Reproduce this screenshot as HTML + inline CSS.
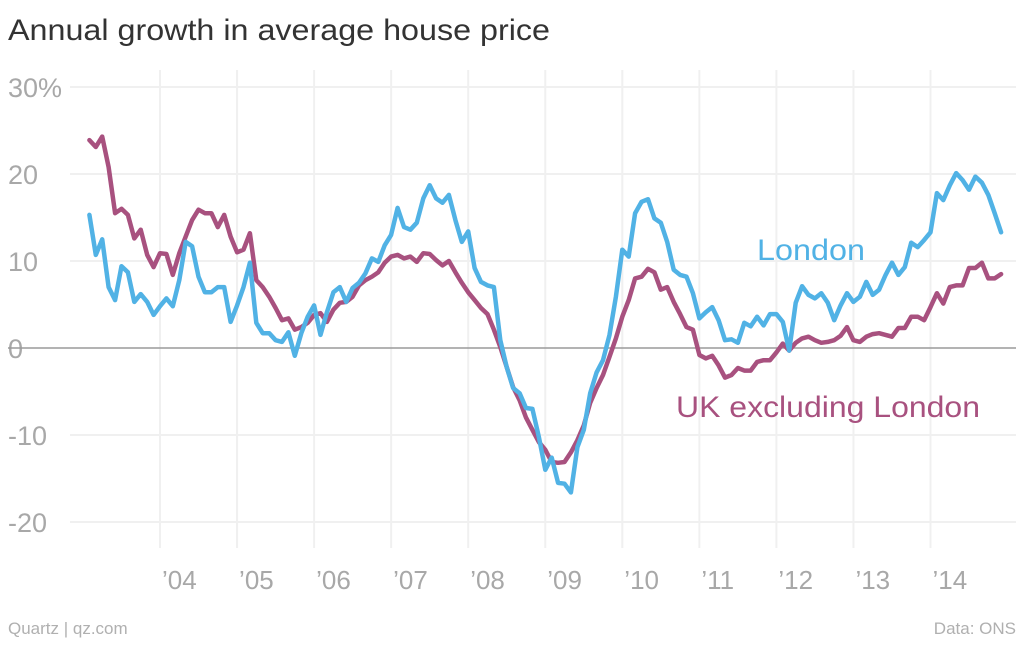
<!DOCTYPE html>
<html><head><meta charset="utf-8"><style>
body{margin:0;background:#fff;font-family:"Liberation Sans",sans-serif;}
</style></head><body>
<svg id="chart" width="1024" height="640" xmlns="http://www.w3.org/2000/svg">
<rect width="1024" height="640" fill="#ffffff"/>
<text x="8" y="40" font-size="30" fill="#333" textLength="542" lengthAdjust="spacingAndGlyphs" font-family="Liberation Sans, sans-serif">Annual growth in average house price</text>
<g id="grid"></g><g id="lines"></g>
<text x="757" y="260" font-size="30" fill="#51b2e5" textLength="108" lengthAdjust="spacingAndGlyphs">London</text>
<text x="676" y="417" font-size="30" fill="#a8517f" textLength="304" lengthAdjust="spacingAndGlyphs">UK excluding London</text>
<text x="8" y="634" font-size="17" fill="#b0b0b0">Quartz | qz.com</text>
<text x="1016" y="634" font-size="17" fill="#b0b0b0" text-anchor="end">Data: ONS</text>
</svg>
<script>
const yTicks=[30,20,10,0,-10,-20];
const yTickLabels=["30%","20","10","0","-10","-20"];
const xYears=[2004,2005,2006,2007,2008,2009,2010,2011,2012,2013,2014];
const xYearLabels=["’04","’05","’06","’07","’08","’09","’10","’11","’12","’13","’14"];
const startYear=2003, startMonth=1; // Feb 2003 (0-based month)
const london=[15.3,10.7,12.5,7.0,5.5,9.4,8.7,5.3,6.2,5.3,3.8,4.8,5.7,4.8,7.8,12.2,11.7,8.2,6.4,6.4,7.0,7.0,3.0,4.9,7.0,9.8,2.9,1.7,1.7,0.9,0.7,1.8,-0.9,1.7,3.6,4.9,1.5,4.1,6.4,7.0,5.3,6.9,7.5,8.6,10.3,9.9,11.8,13.0,16.1,
13.9,13.6,14.4,17.2,18.7,17.2,16.7,17.6,14.7,12.2,13.4,9.2,7.6,7.2,7.0,0.9,-2.2,-4.6,-5.2,-6.9,-7.0,-10.2,-14.0,-12.6,-15.5,-15.6,-16.6,-11.4,-9.4,-5.2,-2.8,-1.4,1.5,5.9,11.3,10.5,15.5,16.8,17.1,14.9,14.4,12.2,9.0,8.4,8.2,6.3,3.4,
4.1,4.7,3.2,0.9,1.0,0.6,2.9,2.5,3.6,2.6,3.9,3.9,3.0,-0.3,5.2,7.1,6.1,5.7,6.3,5.2,3.2,4.9,6.3,5.3,5.9,7.6,6.1,6.7,8.4,9.8,8.4,9.3,12.1,11.6,12.4,13.3,17.8,17.0,18.7,20.1,19.3,18.2,19.7,19.0,17.6,15.5,13.3];
const ukExLondon=[23.9,23.1,24.3,20.8,15.5,16.0,15.3,12.6,13.6,10.7,9.3,10.9,10.8,8.4,10.9,12.8,14.7,15.9,15.5,15.5,13.9,15.3,12.8,11.0,11.3,13.2,7.8,7.0,5.9,4.6,3.2,3.4,2.1,2.4,2.9,3.8,4.0,3.0,4.4,5.2,5.3,5.9,7.2,7.8,8.2,8.7,9.8,10.5,10.7,
10.3,10.5,9.9,10.9,10.8,10.1,9.5,10.0,8.7,7.5,6.4,5.5,4.6,3.9,2.1,0.1,-2.2,-4.5,-6.0,-8.0,-9.4,-10.8,-11.7,-13.1,-13.2,-13.1,-12.0,-10.6,-8.9,-6.3,-4.6,-3.1,-1.0,1.1,3.6,5.5,8.0,8.2,9.1,8.7,6.7,7.0,5.3,3.9,2.4,2.1,
-0.8,-1.2,-0.9,-2.0,-3.4,-3.1,-2.3,-2.6,-2.6,-1.6,-1.4,-1.4,-0.5,0.5,-0.3,0.6,1.1,1.3,0.9,0.6,0.7,0.9,1.4,2.4,0.9,0.7,1.3,1.6,1.7,1.5,1.3,2.3,2.3,3.6,3.6,3.2,4.7,6.3,5.1,7.0,7.2,7.2,9.2,9.2,9.8,8.0,8.0,8.5];

const NS="http://www.w3.org/2000/svg";
function yS(v){return 348-v*8.7;}
function xS(t){return 160+(t-2004)*77.05;}
function tOf(i){return startYear+(startMonth+i)/12;}
const grid=document.getElementById('grid');
function mk(tag,attrs,parent){const e=document.createElementNS(NS,tag);for(const k in attrs)e.setAttribute(k,attrs[k]);parent.appendChild(e);return e;}
yTicks.forEach((v,i)=>{
  if(v!==0){
    const l=mk('line',{x1:70,x2:1016,y1:yS(v),y2:yS(v),stroke:'#f0f0f0','stroke-width':2},grid);
    
    
  }
  const t=mk('text',{x:8,y:yS(v)+10,'font-size':27,fill:'#a8a8a8'},grid);
  t.textContent=yTickLabels[i];
  
  
});
xYears.forEach((yr,i)=>{
  const x=xS(yr);
  const l=mk('line',{x1:x,x2:x,y1:70,y2:548,stroke:'#f0f0f0','stroke-width':2},grid);
  
  
  const t=mk('text',{x:x+2,y:589,'font-size':26,fill:'#a8a8a8'},grid);
  t.textContent=xYearLabels[i];
  
  
});
const zl=mk('line',{x1:8,x2:1016,y1:yS(0),y2:yS(0),stroke:'#9a9a9a','stroke-width':1.5},grid);


const lines=document.getElementById('lines');
function draw(arr,color,name){
  const d=arr.map((v,i)=>(i?'L':'M')+xS(tOf(i)).toFixed(1)+' '+yS(v).toFixed(1)).join(' ');
  const p=mk('path',{d:d,fill:'none',stroke:color,'stroke-width':4.5,'stroke-linejoin':'round','stroke-linecap':'round'},lines);
  
  
}
draw(ukExLondon,'#a8517f','uk-excl-london-line');
draw(london,'#51b2e5','london-line');
</script>
</body></html>
